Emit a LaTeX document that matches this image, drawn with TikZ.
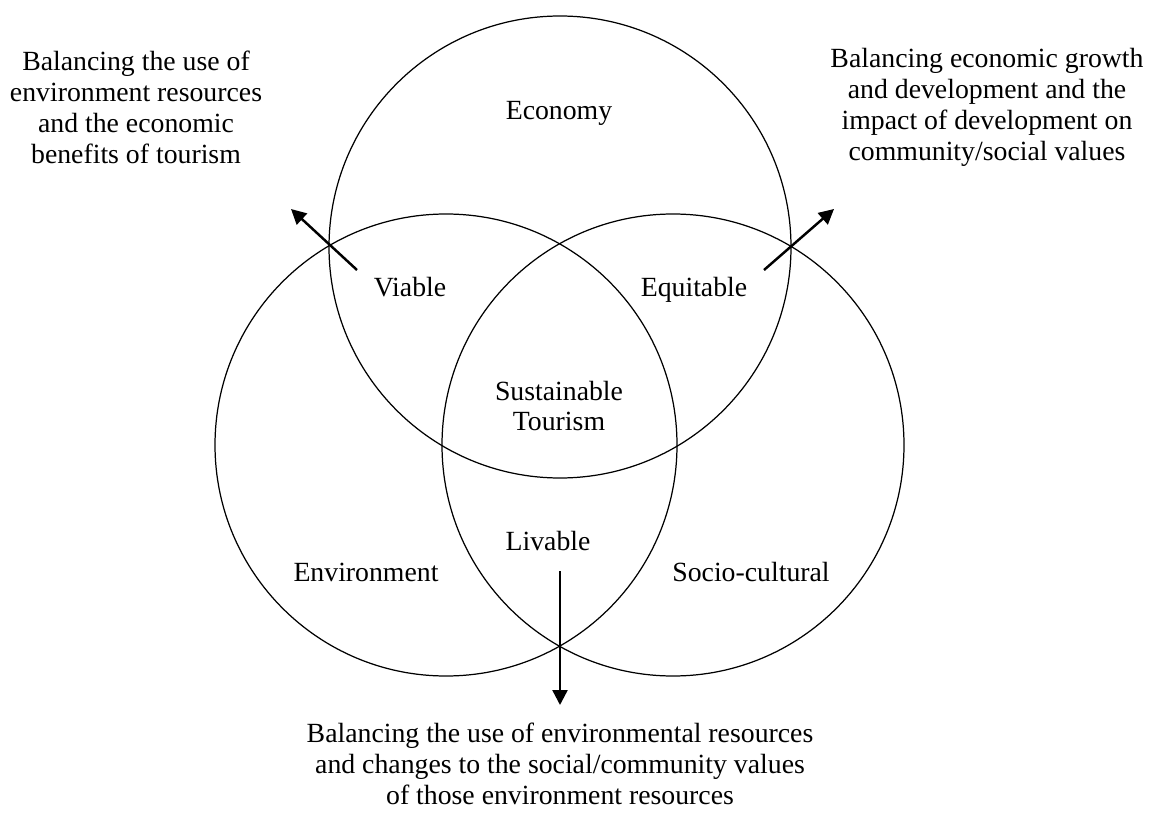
\documentclass[tikz,border=0pt]{standalone}
\usepackage{fontspec}
\setmainfont{Liberation Serif}
\usetikzlibrary{arrows.meta}

\tikzset{
  zone/.style={circle, draw, line width=0.7pt, minimum size=9.24cm, inner sep=0pt},
  label/.style={font=\fontsize{15.8}{17.6}\selectfont, align=center},
  link/.style={line width=1.4pt, -{Triangle[length=0.3cm,width=0.3cm]}}
}

\begin{document}
\begin{tikzpicture}
            \useasboundingbox (0,0) rectangle (22.98,16.24);
            % the three circles
            \node[zone] (economy) at (11.20,11.30) {};
            \node[zone] (environment) at (8.92,7.34) {};
            \node[zone] (social) at (13.46,7.34) {};

            \node[label] (ecotext) at (11.18,13.98) {Economy};
            \node[label] (envtext) at (7.32,4.80) {Environment};
            \node[label] (soctext) at (15.02,4.80) {Socio-cultural};
            \node[label] (viable) at (8.20,10.50) {Viable};
            \node[label] (equitable) at (13.88,10.44) {Equitable};
            \node[label] (livable) at (10.96,5.42) {Livable};
            \node[label] (sustain) at (11.18,8.12) {Sustainable\\Tourism};

            % the outer notes
            \node[label] (viablenote) at (2.72,14.10)
              {Balancing the use of\\environment resources\\and the economic\\benefits of tourism};
            \node[label] (equitnote) at (19.74,14.10)
              {Balancing economic growth\\and development and the\\impact of development on\\community/social values};
            \node[label] (livnote) at (11.20,0.96)
              {Balancing the use of environmental resources\\and changes to the social/community values\\of those environment resources};

            % arrows
            \coordinate (viabletail) at (7.14,10.84);
            \coordinate (viabletip) at (5.82,12.06);
            \coordinate (equittail) at (15.28,10.84);
            \coordinate (equittip) at (16.68,12.06);
            \coordinate (livtail) at (11.20,4.82);
            \coordinate (livtip) at (11.20,2.14);
            \draw[link] (viabletail) -- (viabletip);
            \draw[link] (equittail) -- (equittip);
            \draw[link] (livtail) -- (livtip);
        \end{tikzpicture}
\end{document}
